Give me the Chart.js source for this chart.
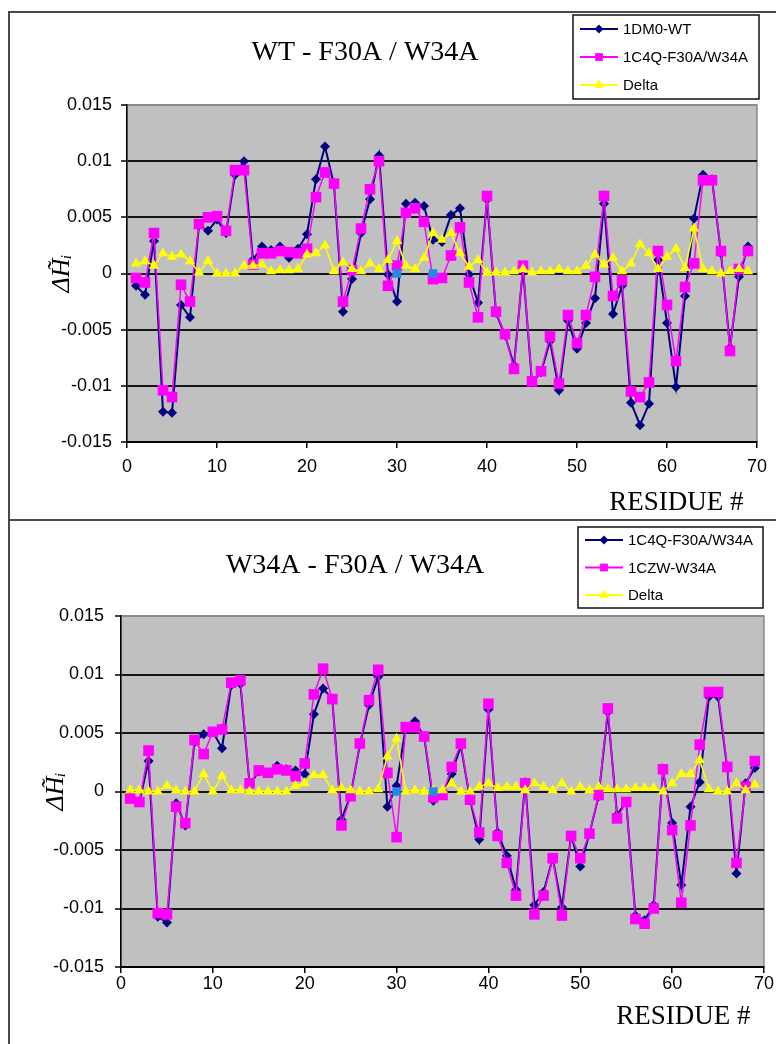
<!DOCTYPE html>
<html>
<head>
<meta charset="utf-8">
<script src="https://cdn.jsdelivr.net/npm/chart.js@4.4.1/dist/chart.umd.min.js"></script>
<style>
  html, body { margin: 0; padding: 0; background: #fff; overflow: hidden; }
  body { width: 776px; height: 1044px; position: relative; }
  .frame { position: absolute; box-sizing: border-box; border: 2px solid #4a4a4a; }
  #frame1 { left: 8px; top: 11px; width: 820px; height: 510px; }
  #frame2 { left: 8px; top: 519px; width: 820px; height: 600px; border-top: none; }
  canvas { position: absolute; left: 0; }
  #top-chart { top: 0; }
  #bottom-chart { top: 519px; }
</style>
</head>
<body>
<div class="frame" id="frame1"></div>
<div class="frame" id="frame2"></div>
<canvas id="top-chart" width="776" height="519"></canvas>
<canvas id="bottom-chart" width="776" height="525"></canvas>
<script>
// residue numbers (x)
const residues = [1, 2, 3, 4, 5, 6, 7, 8, 9, 10, 11, 12, 13, 14, 15, 16, 17, 18, 19, 20,
    21, 22, 23, 24, 25, 26, 27, 28, 29, 30, 31, 32, 33, 34, 35, 36, 37, 38, 39, 40,
    41, 42, 43, 44, 45, 46, 47, 48, 49, 50, 51, 52, 53, 54, 55, 56, 57, 58, 59, 60,
    61, 62, 63, 64, 65, 66, 67, 68, 69];
const xTicks = [0, 10, 20, 30, 40, 50, 60, 70];
const yTicks = [-0.015, -0.01, -0.005, 0, 0.005, 0.01, 0.015];

// ---- top panel: WT - F30A / W34A
const topTitle = 'WT - F30A / W34A';
const topNames = ['1DM0-WT', '1C4Q-F30A/W34A', 'Delta'];
const wt1DM0 = [-0.0011, -0.0019, 0.0029, -0.0123, -0.0124, -0.0028, -0.0039, 0.0043, 0.0038, 0.0048,
    0.0036, 0.0088, 0.0100, 0.0012, 0.0024, 0.0021, 0.0024, 0.0014, 0.0022, 0.0035,
    0.0084, 0.0113, 0.0079, -0.0034, -0.0005, 0.0036, 0.0066, 0.0105, -0.0001, -0.0025,
    0.0062, 0.0063, 0.0060, 0.0030, 0.0028, 0.0052, 0.0058, -0.0001, -0.0026, 0.0066,
    -0.0035, -0.0055, -0.0082, 0.0005, -0.0097, -0.0088, -0.0060, -0.0104, -0.0042, -0.0067,
    -0.0044, -0.0022, 0.0062, -0.0036, -0.0011, -0.0115, -0.0135, -0.0116, 0.0012, -0.0044,
    -0.0101, -0.0020, 0.0049, 0.0088, 0.0084, 0.0018, -0.0066, -0.0003, 0.0024];
const f30aTop = [-0.0004, -0.0008, 0.0036, -0.0104, -0.0110, -0.0010, -0.0025, 0.0044, 0.0050, 0.0051,
    0.0038, 0.0092, 0.0092, 0.0008, 0.0018, 0.0018, 0.0020, 0.0019, 0.0018, 0.0022,
    0.0068, 0.0090, 0.0080, -0.0025, 0.0003, 0.0040, 0.0075, 0.0100, -0.0011, 0.0007,
    0.0054, 0.0058, 0.0046, -0.0005, -0.0004, 0.0016, 0.0041, -0.0008, -0.0039, 0.0069,
    -0.0034, -0.0054, -0.0085, 0.0007, -0.0096, -0.0087, -0.0056, -0.0098, -0.0037, -0.0062,
    -0.0037, -0.0003, 0.0069, -0.0020, -0.0006, -0.0105, -0.0110, -0.0097, 0.0020, -0.0028,
    -0.0078, -0.0012, 0.0009, 0.0083, 0.0083, 0.0020, -0.0069, 0.0004, 0.0020];
const deltaTop = [0.0009, 0.0011, 0.0007, 0.0018, 0.0015, 0.0017, 0.0011, 0.0001, 0.0011, 0.0000,
    0.0000, 0.0000, 0.0007, 0.0007, 0.0008, 0.0002, 0.0003, 0.0003, 0.0004, 0.0017,
    0.0018, 0.0025, 0.0002, 0.0010, 0.0004, 0.0002, 0.0009, 0.0004, 0.0012, 0.0029,
    0.0007, 0.0004, 0.0014, 0.0036, 0.0030, 0.0036, 0.0018, 0.0006, 0.0012, 0.0001,
    0.0001, 0.0001, 0.0002, 0.0004, 0.0001, 0.0002, 0.0002, 0.0004, 0.0002, 0.0002,
    0.0007, 0.0017, 0.0008, 0.0014, 0.0002, 0.0009, 0.0026, 0.0018, 0.0004, 0.0015,
    0.0022, 0.0005, 0.0040, 0.0004, 0.0002, 0.0000, 0.0002, 0.0004, 0.0002];

// ---- bottom panel: W34A - F30A / W34A
const bottomTitle = 'W34A - F30A / W34A';
const bottomNames = ['1C4Q-F30A/W34A', '1CZW-W34A', 'Delta'];
const f30aBottom = [-0.0005, -0.0009, 0.0026, -0.0107, -0.0112, -0.0010, -0.0029, 0.0042, 0.0049, 0.0051,
    0.0037, 0.0091, 0.0092, 0.0006, 0.0017, 0.0016, 0.0022, 0.0019, 0.0018, 0.0015,
    0.0066, 0.0088, 0.0079, -0.0024, -0.0003, 0.0040, 0.0074, 0.0098, -0.0013, 0.0005,
    0.0055, 0.0060, 0.0047, -0.0008, -0.0003, 0.0015, 0.0039, -0.0007, -0.0041, 0.0070,
    -0.0035, -0.0055, -0.0084, 0.0008, -0.0097, -0.0086, -0.0057, -0.0099, -0.0038, -0.0064,
    -0.0036, -0.0004, 0.0068, -0.0020, -0.0009, -0.0106, -0.0110, -0.0097, 0.0018, -0.0027,
    -0.0080, -0.0013, 0.0008, 0.0081, 0.0081, 0.0020, -0.0070, 0.0007, 0.0020];
const w34a1CZW = [-0.0006, -0.0009, 0.0035, -0.0104, -0.0105, -0.0013, -0.0027, 0.0044, 0.0032, 0.0051,
    0.0053, 0.0093, 0.0095, 0.0007, 0.0018, 0.0016, 0.0019, 0.0018, 0.0013, 0.0024,
    0.0083, 0.0105, 0.0079, -0.0029, -0.0004, 0.0041, 0.0078, 0.0104, 0.0016, -0.0039,
    0.0055, 0.0055, 0.0047, -0.0005, -0.0003, 0.0021, 0.0041, -0.0007, -0.0035, 0.0075,
    -0.0038, -0.0061, -0.0089, 0.0007, -0.0105, -0.0089, -0.0057, -0.0106, -0.0038, -0.0057,
    -0.0036, -0.0003, 0.0071, -0.0023, -0.0009, -0.0109, -0.0113, -0.0100, 0.0019, -0.0033,
    -0.0095, -0.0029, 0.0040, 0.0085, 0.0085, 0.0021, -0.0061, 0.0004, 0.0026];
const deltaBottom = [0.0001, 0.0001, 0.0000, 0.0000, 0.0005, 0.0001, 0.0000, 0.0000, 0.0015, 0.0000,
    0.0013, 0.0001, 0.0001, 0.0000, 0.0000, 0.0000, 0.0000, 0.0000, 0.0005, 0.0007,
    0.0014, 0.0014, 0.0001, 0.0003, 0.0001, 0.0000, 0.0000, 0.0002, 0.0030, 0.0045,
    0.0000, 0.0001, 0.0000, 0.0001, 0.0001, 0.0007, 0.0000, 0.0000, 0.0004, 0.0007,
    0.0003, 0.0004, 0.0004, 0.0001, 0.0007, 0.0004, 0.0001, 0.0007, 0.0000, 0.0004,
    0.0001, 0.0004, 0.0002, 0.0002, 0.0002, 0.0003, 0.0003, 0.0003, 0.0000, 0.0007,
    0.0015, 0.0015, 0.0027, 0.0002, 0.0000, 0.0000, 0.0007, 0.0001, 0.0006];

// mutated residues, marked at zero
const mutSites = [30, 34];
const mutValues = [0, 0];

const sansFont = '"Liberation Sans", Arial, sans-serif';
const serifFont = '"Liberation Serif", "Times New Roman", serif';

function toPoints(xs, ys) {
    var pts = [];
    for (let i = 0; i < xs.length; i++) {
        pts.push({ x: xs[i], y: ys[i] });
    }
    return pts;
}

// grey plot area with a thin grey frame, like the old spreadsheet charts
const plotBackground = {
    id: 'plotBackground',
    beforeDraw(chart) {
        const { ctx, chartArea: a } = chart;
        ctx.save();
        ctx.fillStyle = '#c0c0c0';
        ctx.fillRect(a.left, a.top, a.width, a.height);
        ctx.strokeStyle = '#8a8a8a';
        ctx.lineWidth = 1.5;
        ctx.strokeRect(a.left, a.top, a.width, a.height);
        ctx.restore();
    }
};

// panel title + boxed legend in the upper right
const panelDecor = {
    id: 'panelDecor',
    afterDraw(chart, args, opts) {
        const ctx = chart.ctx;
        ctx.save();
        ctx.fillStyle = '#000';
        ctx.font = '28px ' + serifFont;
        ctx.textAlign = 'center';
        ctx.textBaseline = 'middle';
        ctx.fillText(opts.title, opts.titleX, opts.titleY);

        const b = opts.box;
        ctx.fillStyle = '#fff';
        ctx.fillRect(b.x, b.y, b.w, b.h);
        ctx.strokeStyle = '#111';
        ctx.lineWidth = 1.5;
        ctx.strokeRect(b.x, b.y, b.w, b.h);

        ctx.font = '15px ' + sansFont;
        ctx.textAlign = 'left';
        let row = 0;
        chart.data.datasets.forEach((ds) => {
            if (ds.inLegend === false) return;
            const y = b.y + b.first + row * b.gap;
            ctx.strokeStyle = ds.borderColor;
            ctx.lineWidth = 2;
            ctx.beginPath();
            ctx.moveTo(b.x + 7, y);
            ctx.lineTo(b.x + 45, y);
            ctx.stroke();
            ctx.fillStyle = ds.backgroundColor;
            Chart.helpers.drawPoint(ctx, {
                pointStyle: ds.pointStyle,
                radius: ds.legendRadius,
                borderWidth: 0,
                rotation: 0
            }, b.x + 26, y);
            ctx.fillStyle = '#000';
            ctx.fillText(ds.label, b.x + 50, y + 1);
            row++;
        });
        ctx.restore();
    }
};

function makePanel(canvasId, title, names, s1, s2, s3, geo) {
    var ctx = document.getElementById(canvasId).getContext('2d');
    return new Chart(ctx, {
        type: 'line',
        data: {
            datasets: [{
                label: names[0],
                data: toPoints(residues, s1),
                borderColor: '#000080',
                backgroundColor: '#000080',
                borderWidth: 2,
                pointStyle: 'rectRot',
                pointRadius: 5,
                pointBorderWidth: 0,
                legendRadius: 4.5,
                order: 4
            }, {
                label: names[1],
                data: toPoints(residues, s2),
                borderColor: '#ff00ff',
                backgroundColor: '#ff00ff',
                borderWidth: 1.5,
                pointStyle: 'rect',
                pointRadius: 7.5,
                pointBorderWidth: 0,
                legendRadius: 5.5,
                order: 3
            }, {
                label: names[2],
                data: toPoints(residues, s3),
                borderColor: '#ffff00',
                backgroundColor: '#ffff00',
                borderWidth: 1.5,
                pointStyle: 'triangle',
                pointRadius: 6,
                pointBorderWidth: 0,
                legendRadius: 5.5,
                order: 2
            }, {
                label: 'mutation',
                data: toPoints(mutSites, mutValues),
                showLine: false,
                borderColor: '#1e8ce6',
                backgroundColor: '#1e8ce6',
                pointStyle: 'rect',
                pointRadius: 6,
                pointBorderWidth: 0,
                inLegend: false,
                order: 1
            }]
        },
        options: {
            responsive: false,
            animation: false,
            devicePixelRatio: 1,
            layout: {
                padding: { left: 0, top: geo.top, right: geo.right, bottom: 0 }
            },
            scales: {
                x: {
                    type: 'linear',
                    min: 0,
                    max: 70,
                    afterBuildTicks(scale) {
                        scale.ticks = xTicks.map(v => ({ value: v }));
                    },
                    ticks: {
                        color: '#000',
                        font: { family: sansFont, size: 18 },
                        padding: geo.xTickPad,
                        maxRotation: 0,
                        autoSkip: false
                    },
                    grid: {
                        drawOnChartArea: false,
                        drawTicks: true,
                        tickLength: 6,
                        color: '#000',
                        lineWidth: 1.5
                    },
                    border: { color: '#000', width: 2 },
                    title: {
                        display: true,
                        text: 'RESIDUE #\u00a0\u00a0',
                        align: 'end',
                        color: '#000',
                        font: { family: serifFont, size: 27 },
                        padding: { top: 0, bottom: geo.xTitlePad }
                    },
                    afterFit(scale) {
                        scale.height = geo.xAxisH;
                        scale.paddingLeft = 0;
                        scale.paddingRight = 0;
                    }
                },
                y: {
                    min: -0.015,
                    max: 0.015,
                    afterBuildTicks(scale) {
                        scale.ticks = yTicks.map(v => ({ value: v }));
                    },
                    ticks: {
                        color: '#000',
                        font: { family: sansFont, size: 18 },
                        padding: geo.yTickPad,
                        callback: (v) => String(Math.round(v * 1000) / 1000)
                    },
                    grid: {
                        color: (c) => (c.tick && Math.abs(c.tick.value - 0.015) < 1e-9) ? '#8a8a8a' : '#161616',
                        lineWidth: 2,
                        tickLength: 6,
                        tickColor: '#000',
                        tickWidth: 1.5
                    },
                    border: { color: '#000', width: 1.5 },
                    title: {
                        display: true,
                        text: '\u0394H\u0303\u1d62',
                        color: '#000',
                        font: { family: serifFont, size: 26, style: 'italic' },
                        padding: { top: geo.yTitlePad, bottom: 0 }
                    },
                    afterFit(scale) {
                        scale.width = geo.yAxisW;
                        scale.paddingTop = 0;
                        scale.paddingBottom = 0;
                    }
                }
            },
            plugins: {
                legend: { display: false },
                tooltip: { enabled: false },
                panelDecor: {
                    title: title,
                    titleX: geo.titleX,
                    titleY: geo.titleY,
                    box: geo.box
                }
            }
        },
        plugins: [plotBackground, panelDecor]
    });
}

window.topChart = makePanel('top-chart', topTitle, topNames, wt1DM0, f30aTop, deltaTop, {
    top: 105, right: 19, yAxisW: 127, xAxisH: 77,
    xTickPad: 8, yTickPad: 9, xTitlePad: 0, yTitlePad: 47,
    titleX: 365, titleY: 53,
    box: { x: 573, y: 15, w: 186, h: 84, first: 14, gap: 28 }
});

window.bottomChart = makePanel('bottom-chart', bottomTitle, bottomNames, f30aBottom, w34a1CZW, deltaBottom, {
    top: 97, right: 12, yAxisW: 121, xAxisH: 77,
    xTickPad: 0, yTickPad: 11, xTitlePad: 11, yTitlePad: 41,
    titleX: 355, titleY: 47,
    box: { x: 578, y: 8, w: 185, h: 81, first: 13, gap: 27.5 }
});
</script>
</body>
</html>
